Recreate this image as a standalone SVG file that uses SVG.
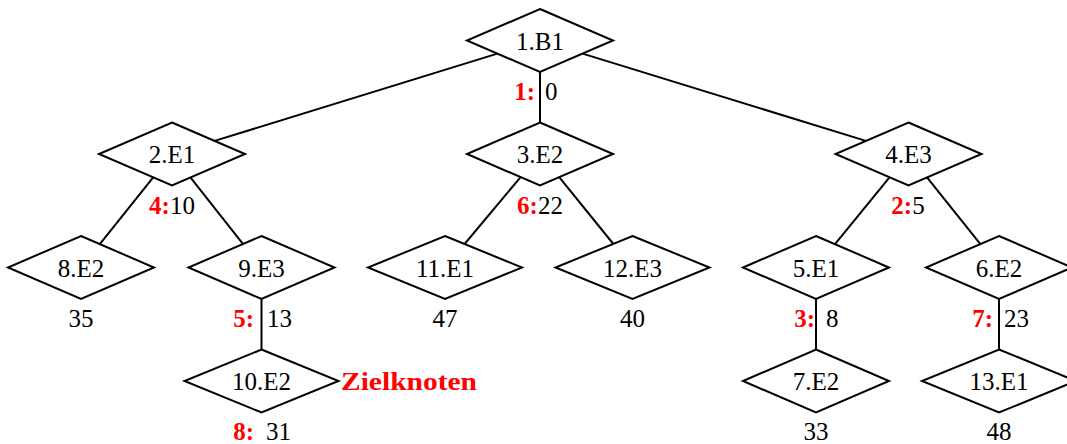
<svg xmlns="http://www.w3.org/2000/svg" width="1067" height="444" viewBox="0 0 1067 444">
<style>
.n{fill:#fff;stroke:#000;stroke-width:2;stroke-linejoin:miter}
.e{stroke:#000;stroke-width:2;fill:none}
text{font-family:"Liberation Serif","Times New Roman",serif;font-size:25px;fill:#000}
.c{text-anchor:middle}
.r{fill:#ff0000;font-weight:bold}
.ra{text-anchor:end}
</style>
<rect width="1067" height="444" fill="#fff"/>
<g id="edges">
<line class="e" x1="497.4" y1="53.6" x2="214.6" y2="140.9"/>
<line class="e" x1="540" y1="72" x2="540" y2="122.5"/>
<line class="e" x1="582.6" y1="53.6" x2="865.9" y2="140.9"/>
<line class="e" x1="153.2" y1="177.4" x2="99.8" y2="244.1"/>
<line class="e" x1="190.4" y1="177.4" x2="243.1" y2="244.1"/>
<line class="e" x1="261.5" y1="299" x2="261.5" y2="349.5"/>
<line class="e" x1="520.6" y1="177.1" x2="464.6" y2="244"/>
<line class="e" x1="559.2" y1="177.1" x2="613.4" y2="244"/>
<line class="e" x1="889.5" y1="177.3" x2="835" y2="244.2"/>
<line class="e" x1="927" y1="177.3" x2="980.4" y2="244.2"/>
<line class="e" x1="816" y1="299" x2="816" y2="349.5"/>
<line class="e" x1="999" y1="299" x2="999" y2="349.5"/>
</g>
<g id="n1"><polygon class="n" points="540,9 613,40.5 540,72 467,40.5"/><text class="c" x="540" y="50">1.B1</text></g>
<g id="n2"><polygon class="n" points="172,122.5 245,154 172,185.5 99,154"/><text class="c" x="172" y="163">2.E1</text></g>
<g id="n3"><polygon class="n" points="540,122.5 613,154 540,185.5 467,154"/><text class="c" x="540" y="163">3.E2</text></g>
<g id="n4"><polygon class="n" points="908.5,122.5 981.5,154 908.5,185.5 835.5,154"/><text class="c" x="908.5" y="163">4.E3</text></g>
<g id="n8"><polygon class="n" points="81,236 154,267.5 81,299 8,267.5"/><text class="c" x="81" y="276.5">8.E2</text></g>
<g id="n9"><polygon class="n" points="261.5,236 334.5,267.5 261.5,299 188.5,267.5"/><text class="c" x="261.5" y="276.5">9.E3</text></g>
<g id="n11"><polygon class="n" points="445,236 522,267.5 445,299 368,267.5"/><text class="c" x="445" y="276.5">11.E1</text></g>
<g id="n12"><polygon class="n" points="632.5,236 709.5,267.5 632.5,299 555.5,267.5"/><text class="c" x="632.5" y="276.5">12.E3</text></g>
<g id="n5"><polygon class="n" points="816,236 889,267.5 816,299 743,267.5"/><text class="c" x="816" y="276.5">5.E1</text></g>
<g id="n6"><polygon class="n" points="999,236 1072,267.5 999,299 926,267.5"/><text class="c" x="999" y="276.5">6.E2</text></g>
<g id="n10"><polygon class="n" points="261.5,349.5 338.5,381 261.5,412.5 184.5,381"/><text class="c" x="261.5" y="390">10.E2</text></g>
<g id="n7"><polygon class="n" points="816,349.5 889,381 816,412.5 743,381"/><text class="c" x="816" y="390">7.E2</text></g>
<g id="n13"><polygon class="n" points="999,349.5 1076,381 999,412.5 922,381"/><text class="c" x="999" y="390">13.E1</text></g>
<g id="labels">
<text class="r ra" x="535" y="100">1:</text><text x="545" y="100">0</text>
<text class="c" x="172" y="214"><tspan class="r">4:</tspan>10</text>
<text class="c" x="540" y="214"><tspan class="r">6:</tspan>22</text>
<text class="c" x="908" y="214"><tspan class="r">2:</tspan>5</text>
<text class="c" x="81" y="327">35</text>
<text class="r ra" x="254" y="327">5:</text><text x="267" y="327">13</text>
<text class="c" x="445" y="327">47</text>
<text class="c" x="632.5" y="327">40</text>
<text class="r ra" x="815" y="327">3:</text><text x="826" y="327">8</text>
<text class="r ra" x="993" y="327">7:</text><text x="1004" y="327">23</text>
<text class="r ra" x="254" y="440">8:</text><text x="266" y="440">31</text>
<text class="c" x="816" y="440">33</text>
<text class="c" x="999" y="440">48</text>
<text class="r" x="341" y="390" textLength="136" lengthAdjust="spacingAndGlyphs">Zielknoten</text>
</g>
</svg>
